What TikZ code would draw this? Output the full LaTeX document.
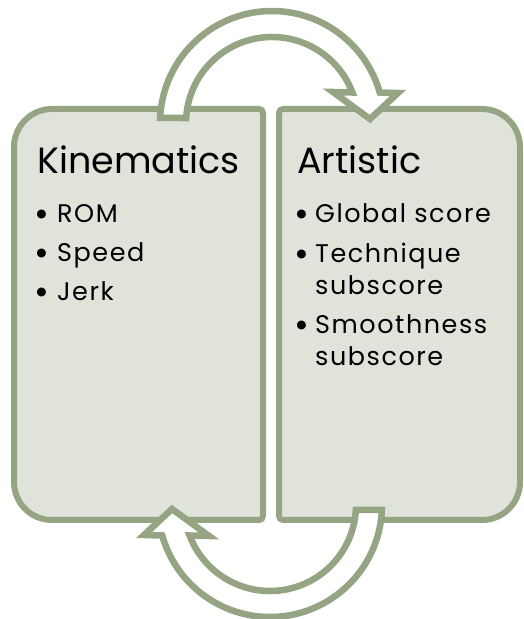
\documentclass[tikz,border=0pt]{standalone}
\usepackage{fontspec}
\setmainfont{Poppins}
\definecolor{sage}{RGB}{149,164,131}
\definecolor{sagefill}{RGB}{224,227,218}

\begin{document}
\begin{tikzpicture}[x=1pt, y=1pt,
    panel/.style ={draw=sage, fill=sagefill, line width=6pt},
    turn/.style ={draw=sage, fill=white, line width=6.5pt, line join=miter},
    heading/.style ={anchor=base west, inner sep=0pt, font=\fontsize{36.5}{36.5}\selectfont},
    entry/.style ={anchor=base west, inner sep=0pt,
       font=\fontsize{25.5}{25.5}\selectfont\addfontfeatures{LetterSpace=6}},
    dot/.style ={anchor=base west, inner sep=0pt, font=\fontsize{36}{36}\selectfont}]
   \useasboundingbox (0,0) rectangle (524,619);

   % panels
   \draw[panel] (14,137) -- (14,472) arc (180:90:38) -- (259,510) arc (90:0:4)
      -- (263,103) arc (0:-90:4) -- (52,99) arc (270:180:38) -- cycle;
   \draw[panel] (520,137) -- (520,472) arc (0:90:38) -- (283,510) arc (90:180:4)
      -- (279,103) arc (180:270:4) -- (482,99) arc (-90:0:38) -- cycle;

   % turning arrows, top one and bottom one
   \foreach \cx/\cy/\rot in {272/496/0, 270/114/180}
   {
   \begin{scope}[shift={(\cx,\cy)}, rotate=\rot]
   \draw[turn] (177.44:112) arc (177.44:15.8:112) -- (126,30) -- (98,4)
      -- (61,31) -- (20.77:86) arc (20.77:176.67:86) -- cycle;
   \end{scope}
   }

   \node[heading] (kin) at (37,445) {Kinematics};
   \node[dot] (romdot) at (34,392) {\textbullet};
   \node[entry] (rom) at (57,396) {ROM};
   \node[dot] (speeddot) at (34,353) {\textbullet};
   \node[entry] (speed) at (57,357) {Speed};
   \node[dot] (jerkdot) at (34,314) {\textbullet};
   \node[entry] (jerk) at (57,318) {Jerk};

   \node[heading] (art) at (297,445) {Artistic};
   \node[dot] (globaldot) at (294,392) {\textbullet};
   \node[entry] (global) at (315,396) {Global score};
   \node[dot] (techdot) at (294,352) {\textbullet};
   \node[entry] (tech) at (315,356) {Technique};
   \node[entry] (techsub) at (315,324) {subscore};
   \node[dot] (smoothdot) at (294,281) {\textbullet};
   \node[entry] (smooth) at (315,285) {Smoothness};
   \node[entry] (smoothsub) at (315,253) {subscore};
 \end{tikzpicture}
\end{document}
